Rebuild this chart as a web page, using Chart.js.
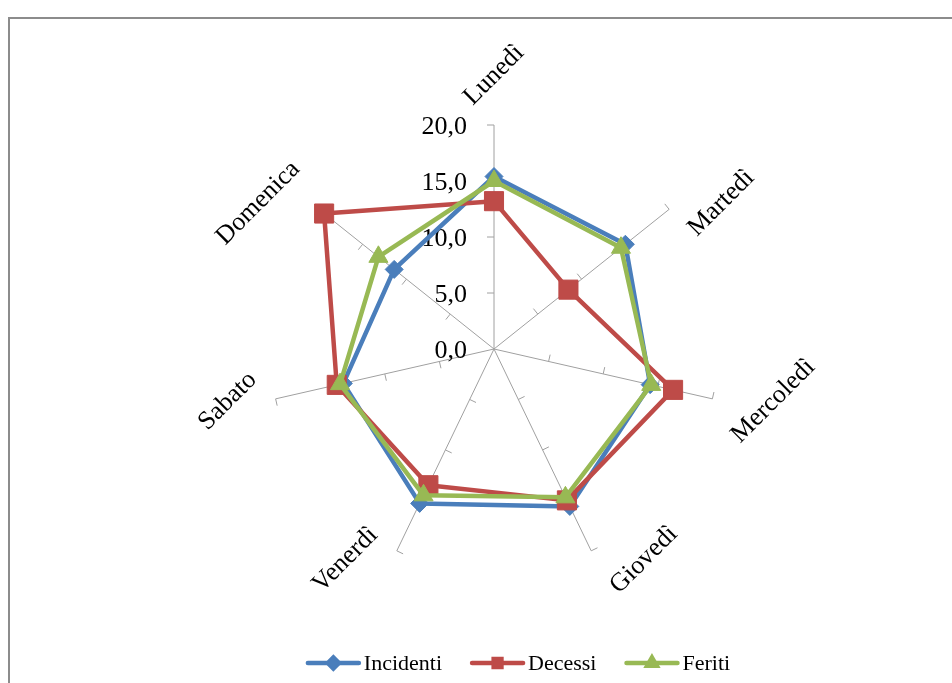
<!DOCTYPE html>
<html>
<head>
<meta charset="utf-8">
<script src="https://cdn.jsdelivr.net/npm/chart.js@4"></script>
<style>
  html, body { margin: 0; padding: 0; background: #ffffff; }
  #wrap { position: relative; width: 952px; height: 683px; overflow: hidden; }
  #frame { position: absolute; left: 8px; top: 17px; width: 1000px; height: 800px;
           border-left: 2px solid #8c8c8c; border-top: 2px solid #8c8c8c; }
  canvas { position: absolute; left: 0; top: 0; }
</style>
</head>
<body>
<div id="wrap">
  <div id="frame"></div>
  <canvas id="c" width="952" height="683"></canvas>
</div>
<script>
// Giorni della settimana (assi del radar)
const giorni = ['Lunedì', 'Martedì', 'Mercoledì', 'Giovedì', 'Venerdì', 'Sabato', 'Domenica'];

// Valori percentuali per giorno
const incidenti = [15.4, 15.0, 14.3, 15.6, 15.3, 13.8, 11.4];
const decessi   = [13.2, 8.5, 16.4, 15.0, 13.5, 14.4, 19.4];
const feriti    = [15.0, 14.5, 14.4, 14.7, 14.5, 14.1, 13.2];

// Nomi delle serie
const nomiSerie = ['Incidenti', 'Decessi', 'Feriti'];

// Scala dei valori
const scalaMin = 0;
const scalaMax = 20;
const scalaPasso = 5;

const FONT = '"Liberation Serif", "Times New Roman", serif';
const BLU = '#4A7EBB', ROSSO = '#BE4B48', VERDE = '#98B954';
const GRIGIO = '#a0a0a0';

function formatta(v) { return v.toFixed(1).replace('.', ','); }

// Decorazioni: tacche sugli assi, etichette dei valori, etichette ruotate dei giorni, legenda
const decorRadar = {
  id: 'decorRadar',
  beforeDatasetsDraw(chart) {
    const s = chart.scales.r;
    const ctx = chart.ctx;
    const n = chart.data.labels.length;
    ctx.save();
    ctx.strokeStyle = GRIGIO;
    ctx.lineWidth = 1;
    s.ticks.forEach(t => {
      if (t.value === s.min) return;
      const r = s.getDistanceFromCenterForValue(t.value);
      for (let i = 0; i < n; i++) {
        const a = s.getIndexAngle(i) - Math.PI / 2;
        const x = s.xCenter + Math.cos(a) * r;
        const y = s.yCenter + Math.sin(a) * r;
        ctx.beginPath();
        ctx.moveTo(x, y);
        ctx.lineTo(x + Math.sin(a) * 7, y - Math.cos(a) * 7);
        ctx.stroke();
      }
    });
    // etichette dei valori lungo il primo asse
    ctx.fillStyle = '#000';
    ctx.font = '26px ' + FONT;
    ctx.textAlign = 'right';
    ctx.textBaseline = 'middle';
    s.ticks.forEach(t => {
      const r = s.getDistanceFromCenterForValue(t.value);
      ctx.fillText(formatta(t.value), s.xCenter - 27, s.yCenter - r + 2);
    });
    ctx.restore();
  },
  afterDraw(chart) {
    const s = chart.scales.r;
    const ctx = chart.ctx;
    ctx.save();
    // etichette dei giorni ruotate di 45°
    ctx.fillStyle = '#000';
    ctx.font = '26px ' + FONT;
    ctx.textAlign = 'center';
    ctx.textBaseline = 'middle';
    const R = s.drawingArea;
    const h = 22;
    chart.data.labels.forEach((lab, i) => {
      const th = s.getIndexAngle(i);
      const ex = s.xCenter + Math.sin(th) * R;
      const ey = s.yCenter - Math.cos(th) * R;
      const w = ctx.measureText(lab).width;
      let cx, cy;
      if (Math.abs(Math.sin(th)) < 0.1) {
        cx = ex;
        cy = ey - (Math.SQRT1_2 * (w / 2 + h / 2) + 16);
      } else {
        cx = ex + Math.sign(Math.sin(th)) * (Math.SQRT1_2 * w / 2 + 23);
        cy = ey - Math.cos(th) * 10;
      }
      ctx.save();
      ctx.translate(cx, cy);
      ctx.rotate(-Math.PI / 4);
      ctx.fillText(lab, 0, 0);
      ctx.restore();
    });

    // legenda in basso
    ctx.font = '22px ' + FONT;
    ctx.textAlign = 'left';
    const ly = 663;
    const lineLen = 55, gapTxt = 3, gapItem = 28;
    const items = chart.data.datasets.map(ds => ({ ds, w: ctx.measureText(ds.label).width }));
    const total = items.reduce((acc, it) => acc + lineLen + gapTxt + it.w, 0) + gapItem * (items.length - 1);
    let x = 518 - total / 2;
    items.forEach(it => {
      const ds = it.ds;
      ctx.strokeStyle = ds.borderColor;
      ctx.lineWidth = 4.5;
      ctx.lineCap = 'round';
      ctx.beginPath();
      ctx.moveTo(x + 2, ly);
      ctx.lineTo(x + lineLen - 2, ly);
      ctx.stroke();
      Chart.helpers.drawPoint(ctx, {
        pointStyle: ds.pointStyle, rotation: 0, radius: 5.5, borderWidth: 1
      }, x + lineLen / 2, ly);
      ctx.fillStyle = ds.borderColor;
      ctx.fill();
      ctx.fillStyle = '#000';
      ctx.fillText(ds.label, x + lineLen + gapTxt, ly + 1);
      x += lineLen + gapTxt + it.w + gapItem;
    });
    ctx.restore();
  }
};

function serie(nome, dati, colore, stile, raggio, ordine) {
  return {
    label: nome, data: dati, fill: false,
    borderColor: colore, backgroundColor: colore,
    pointBackgroundColor: colore, pointBorderColor: colore,
    pointStyle: stile, pointRadius: raggio, pointBorderWidth: 1,
    borderWidth: 4.5, order: ordine
  };
}

new Chart(document.getElementById('c').getContext('2d'), {
  type: 'radar',
  data: {
    labels: giorni,
    datasets: [
      serie(nomiSerie[0], incidenti, BLU, 'rectRot', 9, 3),
      serie(nomiSerie[1], decessi, ROSSO, 'rect', 13.5, 2),
      serie(nomiSerie[2], feriti, VERDE, 'triangle', 11, 1)
    ]
  },
  options: {
    responsive: false,
    animation: false,
    devicePixelRatio: 1,
    layout: { padding: { left: 270, right: 234, top: 125, bottom: 110 } },
    plugins: { legend: { display: false }, tooltip: { enabled: false } },
    elements: { line: { tension: 0, borderJoinStyle: 'round', borderCapStyle: 'round' } },
    scales: {
      r: {
        min: scalaMin, max: scalaMax,
        ticks: { display: false, stepSize: scalaPasso },
        grid: { display: false },
        angleLines: { display: true, color: GRIGIO, lineWidth: 1 },
        pointLabels: { display: false }
      }
    }
  },
  plugins: [decorRadar]
});
</script>
</body>
</html>
